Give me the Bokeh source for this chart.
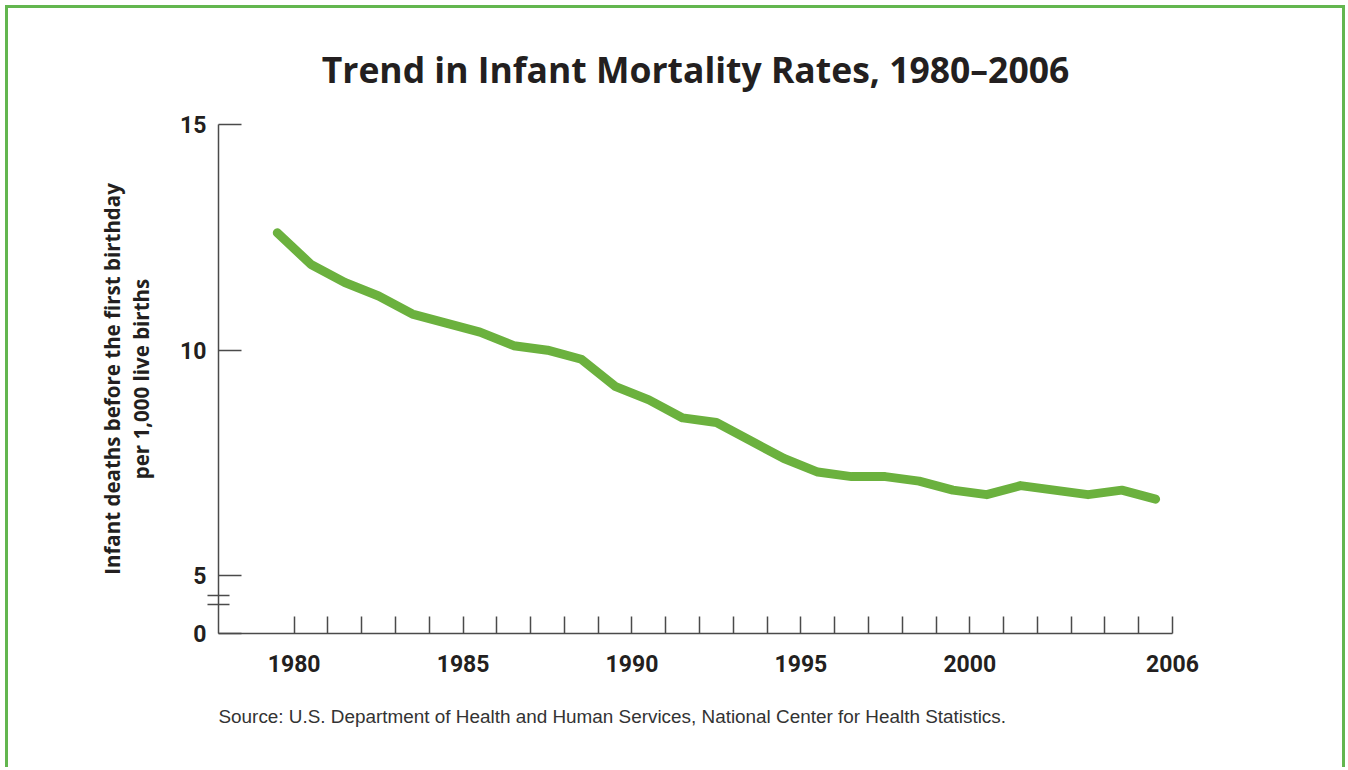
from bokeh.plotting import figure
from bokeh.models import Range1d, FixedTicker, Title
from bokeh.embed import file_html
from bokeh.resources import INLINE

# ---------------- data ----------------
years = list(range(1980, 2007))
rates = [12.6, 11.9, 11.5, 11.2, 10.8, 10.6, 10.4, 10.1, 10.0, 9.8,
         9.2, 8.9, 8.5, 8.4, 8.0, 7.6, 7.3, 7.2, 7.2, 7.1,
         6.9, 6.8, 7.0, 6.9, 6.8, 6.9, 6.7]
x_label_years = [1980, 1985, 1990, 1995, 2000, 2006]
y_tick_values = [5, 10, 15]
y_bottom_label = "0"
title_text = "Trend in Infant Mortality Rates, 1980\u20132006"
y_label = "Infant deaths before the first birthday\nper 1,000 live births"
source_text = ("Source: U.S. Department of Health and Human Services, "
               "National Center for Health Statistics.")

# ---------------- layout constants ----------------
W, H = 1340, 762
Y_BOTTOM = 3.724          # axis break: bottom of the (broken) y axis shows "0"
BREAKS = [4.557, 4.358]   # positions of the break marks
GREEN_LINE = "#6BB13E"
GREEN_BORDER = "#63B64F"
AXIS_COLOR = "#4a4a4a"
TEXT_COLOR = "#231F20"

p = figure(width=W, height=H, output_backend="svg", toolbar_location=None,
           x_range=Range1d(1978.26, 2006.5), y_range=Range1d(Y_BOTTOM, 15),
           min_border_left=210, min_border_right=W - 1164,
           min_border_top=116, min_border_bottom=H - 625)
p.styles = {"border-left": f"3px solid {GREEN_BORDER}",
            "border-top": f"3px solid {GREEN_BORDER}",
            "border-right": f"3px solid {GREEN_BORDER}",
            "margin-left": "5px", "margin-top": "5px"}
p.outline_line_color = None
p.xgrid.grid_line_color = None
p.ygrid.grid_line_color = None
p.background_fill_color = "white"
p.border_fill_color = "white"

# title
p.title.text = title_text
p.title.align = "center"
p.title.text_font = "Open Sans"
p.title.text_font_style = "bold"
p.title.text_font_size = "35.5px"
p.title.text_color = TEXT_COLOR
p.title.standoff = 63

# source note
p.add_layout(Title(text=source_text, align="left", text_font="Liberation Sans",
                   text_font_style="normal", text_font_size="18.9px",
                   text_color="#333333", standoff=59), "below")

# data line
p.line(years, rates, line_width=9, line_color=GREEN_LINE,
       line_cap="round", line_join="round")

# x axis: ticks every year boundary, labels at selected years
x_ticks = [y + 0.5 for y in years]
xa = p.xaxis[0]
xa.ticker = FixedTicker(ticks=x_ticks)
xa.major_label_overrides = {t: (str(int(t - 0.5)) if int(t - 0.5) in x_label_years else "")
                            for t in x_ticks}
xa.major_tick_in = 17
xa.major_tick_out = 0
xa.minor_tick_in = 0
xa.minor_tick_out = 0
xa.axis_line_color = AXIS_COLOR
xa.axis_line_width = 1.5
xa.major_tick_line_color = AXIS_COLOR
xa.major_tick_line_width = 1.5
xa.major_label_text_font = "Roboto"
xa.major_label_text_font_style = "bold"
xa.major_label_text_font_size = "23px"
xa.major_label_text_color = TEXT_COLOR
xa.major_label_standoff = 21

# y axis with break marks drawn as minor ticks
ya = p.yaxis[0]
ya.ticker = FixedTicker(ticks=[Y_BOTTOM] + y_tick_values, minor_ticks=BREAKS)
ya.major_label_overrides = {Y_BOTTOM: y_bottom_label}
ya.major_tick_in = 23
ya.major_tick_out = 0
ya.minor_tick_in = 11
ya.minor_tick_out = 11
ya.axis_line_color = AXIS_COLOR
ya.axis_line_width = 1.5
ya.major_tick_line_color = AXIS_COLOR
ya.major_tick_line_width = 1.5
ya.minor_tick_line_color = AXIS_COLOR
ya.minor_tick_line_width = 1.5
ya.major_label_text_font = "Roboto"
ya.major_label_text_font_style = "bold"
ya.major_label_text_font_size = "23px"
ya.major_label_text_color = TEXT_COLOR
ya.major_label_standoff = 1
ya.axis_label = y_label
ya.axis_label_text_font = "Open Sans"
ya.axis_label_text_font_style = "bold"
ya.axis_label_text_font_size = "20.5px"
ya.axis_label_text_color = TEXT_COLOR
ya.axis_label_text_line_height = 1.05
ya.axis_label_standoff = 22

open("out.html", "w").write(file_html(p, INLINE))
